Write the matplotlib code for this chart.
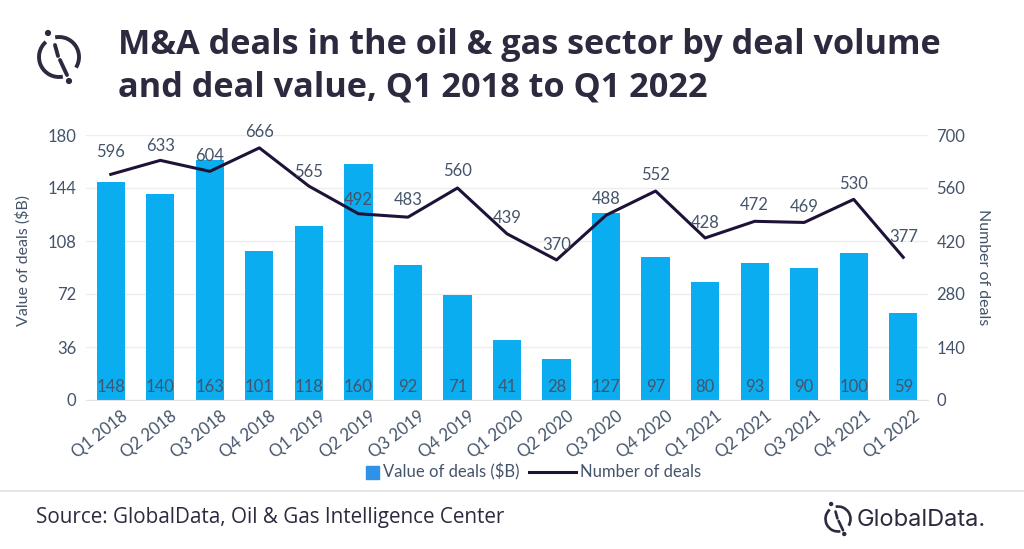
import matplotlib
matplotlib.use("Agg")
import matplotlib.pyplot as plt
from matplotlib.patches import Arc, Circle, Rectangle
from matplotlib.transforms import ScaledTranslation

quarters = ['Q1 2018', 'Q2 2018', 'Q3 2018', 'Q4 2018', 'Q1 2019', 'Q2 2019', 'Q3 2019',
            'Q4 2019', 'Q1 2020', 'Q2 2020', 'Q3 2020', 'Q4 2020', 'Q1 2021', 'Q2 2021',
            'Q3 2021', 'Q4 2021', 'Q1 2022']
deal_value = [148, 140, 163, 101, 118, 160, 92, 71, 41, 28, 127, 97, 80, 93, 90, 100, 59]
deal_count = [596, 633, 604, 666, 565, 492, 483, 560, 439, 370, 488, 552, 428, 472, 469, 530, 377]
left_ticks = [0, 36, 72, 108, 144, 180]
right_ticks = [0, 140, 280, 420, 560, 700]

# how far each line label sits above its point, in pixels
label_lift = [22, 14, 15, 16, 14, 14, 17, 17, 16, 15, 16, 16, 15, 16, 15, 15, 20]

BAR = '#0AADEF'
LINE = '#1E1238'
INK = '#2D2A40'
SLATE = '#44546A'
W, H = 1024, 549

plt.rcParams['font.family'] = ['Lato', 'DejaVu Sans']

fig = plt.figure(figsize=(W / 100, H / 100), dpi=100)
ax = fig.add_axes([86 / W, 1 - 400 / H, (928 - 86) / W, 265 / H])

x = list(range(len(quarters)))
ax.bar(x, deal_value, width=0.57, color=BAR, zorder=2)
ax.set_xlim(-0.5, len(quarters) - 0.5)
ax.set_ylim(0, 180)
ax.set_yticks(left_ticks)
ax.set_xticks(x)
ax.set_xticklabels(quarters, rotation=38, ha='right', rotation_mode='anchor')
ax.tick_params(axis='both', length=0, colors=SLATE, labelsize=12)
ax.tick_params(axis='x', pad=6)
ax.tick_params(axis='y', pad=7)
# tick labels end past the bar centre in the original
shift = ScaledTranslation(10 / 100, 0, fig.dpi_scale_trans)
for lab in ax.get_xticklabels():
    lab.set_transform(lab.get_transform() + shift)
ax.grid(axis='y', color='#EDEDED', linewidth=1, zorder=0)
ax.set_axisbelow(True)
for s in ['top', 'left', 'right']:
    ax.spines[s].set_visible(False)
ax.spines['bottom'].set_color('#E3E3E3')
ax.set_ylabel('Value of deals ($B)', color=SLATE, fontsize=11.5)
ax.yaxis.set_label_coords((31 - 86) / 842, (400 - 260) / 265)

ax2 = ax.twinx()
ax2.plot(x, deal_count, color=LINE, linewidth=2.2, zorder=3)
ax2.set_ylim(0, 700)
ax2.set_yticks(right_ticks)
ax2.tick_params(axis='y', length=0, colors=SLATE, labelsize=12, pad=6)
for s in ax2.spines.values():
    s.set_visible(False)
ax2.set_ylabel('Number of deals', color=SLATE, fontsize=11.5, rotation=270)
ax2.yaxis.set_label_coords((990 - 86) / 842, 0.5)

for i, v in enumerate(deal_value):
    ax2.annotate(str(v), (i, 0), xytext=(0, 13 * 0.72), textcoords='offset points',
                 ha='center', va='center', color=SLATE, fontsize=12, zorder=4)
for i, v in enumerate(deal_count):
    ax2.annotate(str(v), (i, v), xytext=(0, label_lift[i] * 0.72), textcoords='offset points',
                 ha='center', va='center', color=SLATE, fontsize=12, zorder=4)

# overlay in pixel coordinates for the title, legend, footer and logos
over = fig.add_axes([0, 0, 1, 1], zorder=5)
over.set_xlim(0, W)
over.set_ylim(H, 0)
over.axis('off')
over.patch.set_alpha(0)

over.text(118, 66, 'M&A deals in the oil & gas sector by deal volume\nand deal value, Q1 2018 to Q1 2022',
          family='Open Sans', fontweight='bold', fontsize=24.7, color=INK, va='center',
          linespacing=1.32)

over.add_patch(Rectangle((366, 466), 13, 13, color='#2E92E6'))
over.text(383, 472, 'Value of deals ($B)', fontsize=12, color=SLATE, va='center')
over.plot([529, 576], [472, 472], color=LINE, linewidth=2.2)
over.text(580, 472, 'Number of deals', fontsize=12, color=SLATE, va='center')

over.plot([0, W], [491, 491], color='#E0E0E0', linewidth=1.2)
over.text(36, 518, 'Source: GlobalData, Oil & Gas Intelligence Center', family='Open Sans',
          fontsize=14.9, color=INK, va='center')
over.text(857, 520, 'GlobalData.', family='Inter', fontsize=17, color=INK, va='center')


def logo(cx, cy, r, lw):
    k = r / 20
    over.add_patch(Arc((cx, cy), 2 * r, 2 * r, theta1=79, theta2=229, color=INK, lw=lw))
    over.add_patch(Arc((cx, cy), 2 * r, 2 * r, theta1=259, theta2=392, color=INK, lw=lw))
    over.plot([cx - 4 * k, cx - 1 * k], [cy - 12 * k, cy - 1 * k], color=INK, lw=lw, solid_capstyle='round')
    over.plot([cx + 1 * k, cx + 8 * k], [cy + 3 * k, cy + 18 * k], color=INK, lw=lw, solid_capstyle='round')
    over.add_patch(Circle((cx - 11 * k, cy - 24 * k), 2.4 * k, color=INK))
    over.add_patch(Circle((cx + 10 * k, cy + 24 * k), 2.4 * k, color=INK))


logo(59, 57, 20, 2.8)
logo(838, 519, 12.5, 1.9)

fig.savefig('out.png', dpi=100)
